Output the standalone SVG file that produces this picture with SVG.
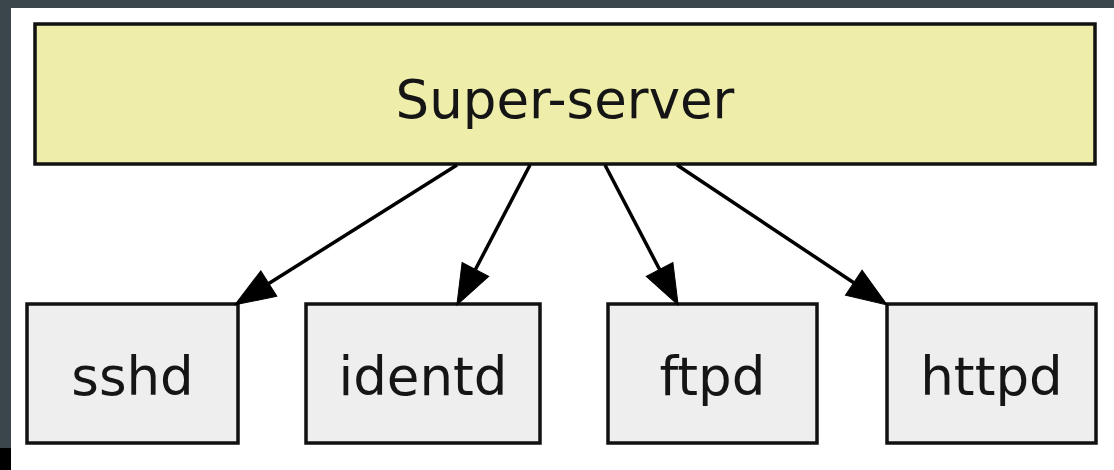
<svg xmlns="http://www.w3.org/2000/svg" width="1114" height="470" viewBox="0 0 1114 470">
  <style>
    .node rect { stroke: #111; stroke-width: 3.5; }
    .main rect { fill: #eeeeaa; }
    .leaf rect { fill: #eeeeee; }
    .node text { font-family: "DejaVu Sans", Verdana, sans-serif; font-size: 53px; fill: #151515; text-anchor: middle; }
    .edge { stroke: #000; stroke-width: 3.5; fill: none; marker-end: url(#arrow); }
  </style>
  <defs>
    <marker id="arrow" markerUnits="userSpaceOnUse" viewBox="0 -17 42 34" refX="0" refY="0" markerWidth="42" markerHeight="34" orient="auto" overflow="visible">
      <path d="M0,-15 L40,0 L0,15 Z" fill="#000" stroke="#000" stroke-width="1"/>
    </marker>
  </defs>
  <rect x="0" y="0" width="1114" height="470" fill="#ffffff"/>
  <rect x="0" y="0" width="1114" height="8" fill="#3b454c"/>
  <rect x="0" y="0" width="11" height="448" fill="#3b454c"/>
  <rect x="0" y="448" width="11" height="22" fill="#000000"/>

  <g id="super-server" class="node main">
    <rect x="35" y="24" width="1060" height="140"/>
    <text x="565" y="118">Super-server</text>
  </g>
  <g id="sshd" class="node leaf">
    <rect x="27" y="304" width="211" height="139"/>
    <text x="132.5" y="395">sshd</text>
  </g>
  <g id="identd" class="node leaf">
    <rect x="306" y="304" width="234" height="139"/>
    <text x="423" y="395">identd</text>
  </g>
  <g id="ftpd" class="node leaf">
    <rect x="608" y="304" width="209" height="139"/>
    <text x="712.5" y="395">ftpd</text>
  </g>
  <g id="httpd" class="node leaf">
    <rect x="887" y="304" width="209" height="139"/>
    <text x="991.5" y="395">httpd</text>
  </g>

  <g id="connectors">
    <line class="edge" x1="457" y1="165" x2="268.8" y2="283.5"/>
    <line class="edge" x1="530" y1="165" x2="475.4" y2="269.5"/>
    <line class="edge" x1="605" y1="165" x2="659.6" y2="269.5"/>
    <line class="edge" x1="677" y1="165" x2="853.8" y2="282.7"/>
  </g>
</svg>
